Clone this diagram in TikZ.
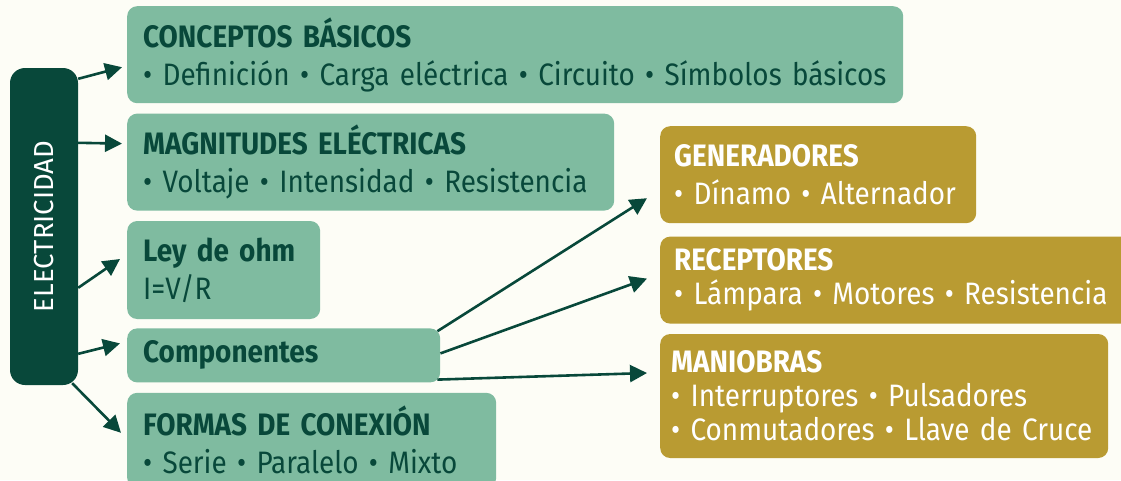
\documentclass[tikz,border=0pt]{standalone}
\usepackage{fontspec}
\setmainfont{Fira Sans}[FakeStretch=0.9]
\newfontfamily\barfont{Fira Sans}
\usepackage{xcolor}
\usetikzlibrary{arrows.meta, positioning}

\definecolor{bgcol}{HTML}{FDFDF6}
\definecolor{sage}{HTML}{7FBBA0}
\definecolor{pine}{HTML}{08483A}
\definecolor{ochre}{HTML}{B99B32}

\begin{document}
\begin{tikzpicture}[x=1pt, y=-1pt,
    box/.style={rectangle, fill=sage, text=pine, rounded corners=10pt, anchor=north west, align=left, inner xsep=16pt, inner ysep=0pt, font=\fontsize{31}{38}\selectfont},
    gold/.style={box, fill=ochre, text=white, inner xsep=14pt},
    bar/.style={rectangle, fill=pine, rounded corners=15pt, minimum width=68pt, minimum height=317pt},
    arrow/.style={draw=pine, line width=2.6pt, -{Triangle[length=17pt, width=17pt]}}]

    \fill [bgcol] (0,0) rectangle (1121,480);
    \useasboundingbox (0,0) rectangle (1121,480);

    % left column
    \node [bar, label={[rotate=90, text=white, font=\barfont\fontsize{27.5}{30}\selectfont]center:ELECTRICIDAD}] (elec) at (44,226.5) {};

    \node [box, minimum height=97pt, text width=744pt] (concept) at (127,6) {\textbf{CONCEPTOS BÁSICOS}\\• Definición • Carga eléctrica • Circuito • Símbolos básicos};
    \node [box, below=10pt of concept.south west, anchor=north west, minimum height=97pt, text width=455pt] (magn) {\textbf{MAGNITUDES ELÉCTRICAS}\\• Voltaje • Intensidad • Resistencia};
    \node [box, below=10pt of magn.south west, anchor=north west, minimum height=98pt, text width=161pt] (ohm) {\textbf{Ley de ohm}\\I=V/R};
    \node [box, below=9pt of ohm.south west, anchor=north west, minimum height=54pt, text width=281pt] (comp) {\textbf{Componentes}};
    \node [box, below=10pt of comp.south west, anchor=north west, minimum height=95pt, text width=337pt] (formas) {\textbf{FORMAS DE CONEXIÓN}\\• Serie • Paralelo • Mixto};

    % right column
    \node [gold, minimum height=97pt, text width=288pt] (gener) at (660,126) {\textbf{GENERADORES}\\• Dínamo • Alternador};
    \node [gold, below=13pt of gener.south west, anchor=north west, minimum height=87pt, text width=460pt, font=\fontsize{31}{34}\selectfont] (recep) {\textbf{RECEPTORES}\\• Lámpara • Motores • Resistencia};
    \node [gold, below=10pt of recep.south west, anchor=north west, minimum height=124pt, text width=426pt, inner xsep=11pt, font=\fontsize{31}{34}\selectfont] (mani) {\textbf{MANIOBRAS}\\• Interruptores • Pulsadores\\• Conmutadores • Llave de Cruce};

    \draw [arrow] ([yshift=-11pt]elec.north east) -- ([xshift=-5pt, yshift=-12.5pt]concept.west);
    \draw [arrow] ([yshift=-75pt]elec.north east) -- ([xshift=-5pt, yshift=18.5pt]magn.west);
    \draw [arrow] ([yshift=-220pt]elec.north east) -- ([xshift=-7pt, yshift=11pt]ohm.west);
    \draw [arrow] ([yshift=-286pt]elec.north east) -- ([xshift=-7pt, yshift=12pt]comp.west);
    \draw [arrow] ([xshift=-6pt, yshift=2pt]elec.south east) -- ([xshift=-6pt, yshift=7.5pt]formas.west);

    \draw [arrow] ([xshift=-3pt, yshift=-3pt]comp.north east) -- ([xshift=-13pt, yshift=-23.5pt]gener.west);
    \draw [arrow] ([yshift=2pt]comp.east) -- ([xshift=-13pt, yshift=1.5pt]recep.west);
    \draw [arrow] ([xshift=-3pt, yshift=3pt]comp.south east) -- ([xshift=-13pt, yshift=23pt]mani.west);
\end{tikzpicture}
\end{document}
